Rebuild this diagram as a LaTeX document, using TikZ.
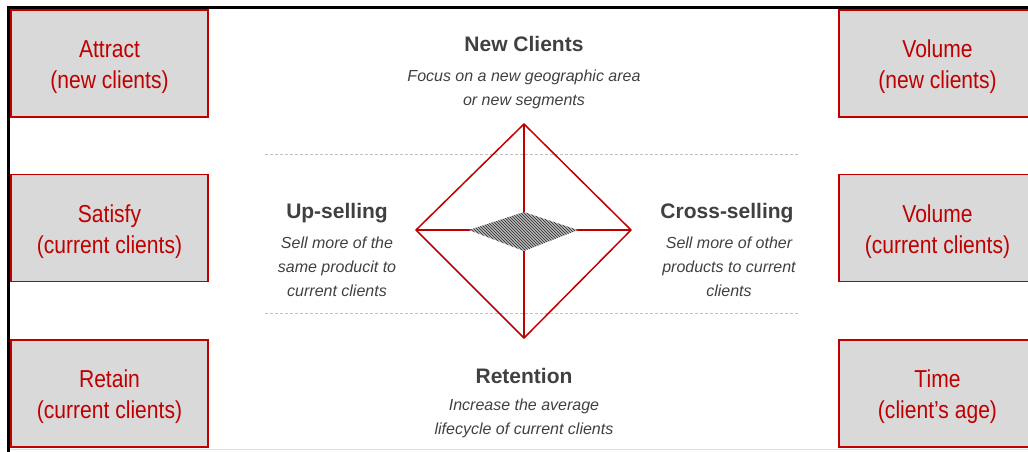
\documentclass[tikz,border=0pt]{standalone}
\usepackage{fontspec}
\setmainfont{Liberation Sans}
\newfontfamily\narrowfont[FakeStretch=0.86]{Liberation Sans}
\usetikzlibrary{patterns}
\definecolor{dred}{HTML}{C00000}
\definecolor{boxgray}{HTML}{D9D9D9}
\definecolor{txt}{HTML}{404040}
\begin{document}
\begin{tikzpicture}[x=1pt,y=-1pt,
 rbox/.style={draw=dred, line width=1.3pt, fill=boxgray, minimum width=197pt, minimum height=107pt, inner sep=0pt},
 boxtext/.style={text=dred, font=\narrowfont\fontsize{24.5}{31}\selectfont, align=center, inner sep=0pt},
 head/.style={text=txt, font=\fontsize{21}{25}\selectfont\bfseries, inner sep=0pt},
 desc/.style={text=txt, font=\fontsize{16}{24}\selectfont\itshape, align=center, inner sep=0pt},
 guide/.style={draw=gray!50, line width=0.8pt, dash pattern=on 3pt off 2pt},
 redline/.style={draw=dred, line width=1.5pt, line join=round}]
\useasboundingbox (0,0) rectangle (1028,451);
\clip (0,0) rectangle (1028,451);
% frame
\draw[line width=2.5pt] (8.5,452) -- (8.5,7.5) -- (1030,7.5);
\draw[gray!25, line width=1pt] (10,449.5) -- (1030,449.5);
% side boxes
\node[rbox] (attract) at (109.5,63.5) {};
\node[rbox] (satisfy) at (109.5,228) {};
\node[rbox] (retain) at (109.5,393.5) {};
\node[rbox] (volnew) at (937.5,63.5) {};
\node[rbox] (volcur) at (937.5,228) {};
\node[rbox] (time) at (937.5,393.5) {};
\node[boxtext] (attractt) at ([yshift=-3.5pt]attract.center) {Attract\\(new clients)};
\node[boxtext] (satisfyt) at ([yshift=-3.5pt]satisfy.center) {Satisfy\\(current clients)};
\node[boxtext] (retaint) at ([yshift=-3.5pt]retain.center) {Retain\\(current clients)};
\node[boxtext] (volnewt) at ([yshift=-3.5pt]volnew.center) {Volume\\(new clients)};
\node[boxtext] (volcurt) at ([yshift=-3.5pt]volcur.center) {Volume\\(current clients)};
\node[boxtext] (timet) at ([yshift=-3.5pt]time.center) {Time\\(client’s age)};
% guides
\coordinate (g1a) at (265,154); \coordinate (g1b) at (798,154);
\coordinate (g2a) at (265,313); \coordinate (g2b) at (798,313);
\draw[guide] (g1a) -- (g1b);
\draw[guide] (g2a) -- (g2b);
% diamond
\coordinate (dt) at (524,124);
\coordinate (dl) at (416,230);
\coordinate (dr) at (631,230);
\coordinate (db) at (524,338);
\draw[redline] (dt) -- (dr) -- (db) -- (dl) -- cycle;
\draw[redline] (dt) -- (db);
\draw[redline] (dl) -- (dr);
\coordinate (it) at (524,212);
\coordinate (il) at (469,230);
\coordinate (ir) at (578,230);
\coordinate (ib) at (524,251);
\fill[gray!55] (it) -- (ir) -- (ib) -- (il) -- cycle;
\fill[pattern=north west lines, pattern color=black!85] (it) -- (ir) -- (ib) -- (il) -- cycle;
% texts
\node[head] (newc) at (524,44) {New Clients};
\node[desc] (newcd) at (524,89.5) {Focus on a new geographic area\\or new segments};
\node[head] (up) at (337,213) {Up-selling};
\node[desc] (upd) at (337,267) {Sell more of the\\same producit to\\current clients};
\node[head] (cross) at (727,213) {Cross-selling};
\node[desc] (crossd) at (729,267) {Sell more of other\\products to current\\clients};
\node[head] (ret) at (524,376) {Retention};
\node[desc] (retd) at (524,418.5) {Increase the average\\lifecycle of current clients};
\end{tikzpicture}
\end{document}
